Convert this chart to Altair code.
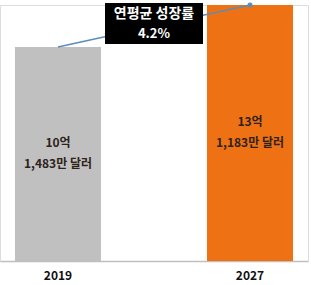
import altair as alt
import pandas as pd

years = ["2019", "2027"]
values = [10.1483, 13.1183]
line1 = ["10억", "13억"]
line2 = ["1,483만 달러", "1,183만 달러"]
colors = ["#c0c0c0", "#ee7214"]
cagr_title = "연평균 성장률"
cagr_value = "4.2%"
base = -5

df = pd.DataFrame({"year": years, "value": values, "l1": line1, "l2": line2, "color": colors})
df["mid"] = [(v + base) / 2 for v in values]

FONT = "Noto Sans CJK KR"
W, H = 308, 256

x = alt.X("year:N", title=None, sort=years,
          scale=alt.Scale(paddingInner=0.552, paddingOuter=0.078),
          axis=alt.Axis(labelAngle=0, ticks=False, domainColor="#bfbfbf", domainWidth=1.5,
                        labelFont=FONT, labelFontWeight="bold", labelFontSize=12,
                        labelColor="#111111", labelPadding=9, grid=False))
y_scale = alt.Scale(domain=[base, values[1]], nice=False, zero=False)

bars = alt.Chart(df).mark_bar().encode(
    x=x,
    y=alt.Y("value:Q", scale=y_scale, axis=None),
    y2=alt.datum(base),
    color=alt.Color("color:N", scale=None),
)

line = alt.Chart(df).mark_line(color="#5b8db8", strokeWidth=1.5).encode(
    x=alt.X("year:N", sort=years), y=alt.Y("value:Q", scale=y_scale)
)
dot = alt.Chart(df.iloc[[1]]).mark_point(filled=True, color="#5b8db8", size=25, opacity=1).encode(
    x=alt.X("year:N", sort=years), y=alt.Y("value:Q", scale=y_scale)
)

lab1 = alt.Chart(df).mark_text(font=FONT, fontWeight="bold", fontSize=12, color="#2e221a", dy=-11).encode(
    x=alt.X("year:N", sort=years), y=alt.Y("mid:Q", scale=y_scale), text="l1:N")
lab2 = alt.Chart(df).mark_text(font=FONT, fontWeight="bold", fontSize=12, color="#2e221a", dy=10).encode(
    x=alt.X("year:N", sort=years), y=alt.Y("mid:Q", scale=y_scale), text="l2:N")

box_df = pd.DataFrame({"t1": [cagr_title], "t2": [cagr_value]})
box = alt.Chart(box_df).mark_rect(color="black").encode(
    x=alt.value(105), x2=alt.value(203), y=alt.value(-2), y2=alt.value(39))
t1 = alt.Chart(box_df).mark_text(font=FONT, fontWeight="bold", fontSize=14, color="white").encode(
    x=alt.value(154), y=alt.value(9), text="t1:N")
t2 = alt.Chart(box_df).mark_text(font=FONT, fontWeight="bold", fontSize=13, color="white").encode(
    x=alt.value(154), y=alt.value(29), text="t2:N")

chart = alt.layer(bars, line, dot, box, t1, t2, lab1, lab2).properties(
    width=W, height=H,
    padding={"left": 0, "top": 5, "right": 3, "bottom": 24},
    autosize=alt.AutoSizeParams(type="none"),
).configure_view(stroke=None).configure(background="white")

chart.save("out.html", embed_options={"renderer": "svg", "actions": False})
